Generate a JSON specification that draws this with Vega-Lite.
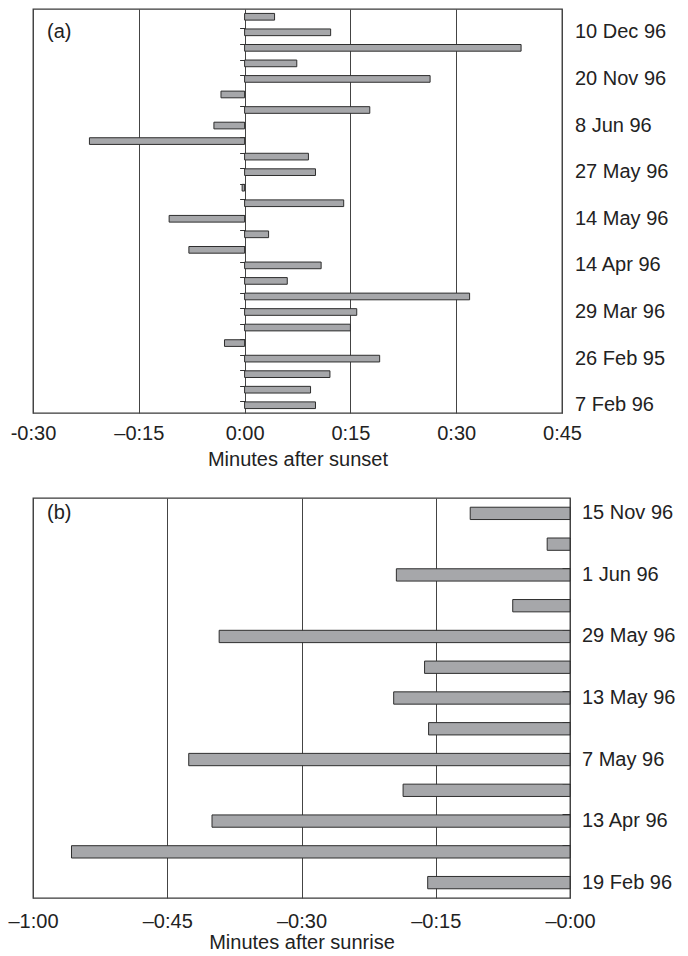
{
  "$schema": "https://vega.github.io/schema/vega-lite/v6.json",
  "background": "white",
  "padding": {"left": 7, "top": 6, "right": 0, "bottom": 0},
  "spacing": 27,
  "config": {
    "font": "Liberation Sans",
    "view": {"stroke": "#3a3a3a", "strokeWidth": 1.3},
    "axis": {
      "labelFont": "Liberation Sans",
      "titleFont": "Liberation Sans",
      "labelColor": "#222222",
      "titleColor": "#222222",
      "labelFontSize": 20,
      "titleFontSize": 20,
      "titleFontWeight": "normal",
      "labelFlush": false
    }
  },
  "vconcat": [
    {
      "width": 529,
      "height": 404,
      "data": {"values": [
        {"row": 1, "min": 4.25, "date": ""},
        {"row": 2, "min": 12.2, "date": "10 Dec 96"},
        {"row": 3, "min": 39.2, "date": ""},
        {"row": 4, "min": 7.4, "date": ""},
        {"row": 5, "min": 26.3, "date": "20 Nov 96"},
        {"row": 6, "min": -3.35, "date": ""},
        {"row": 7, "min": 17.75, "date": ""},
        {"row": 8, "min": -4.35, "date": "8 Jun 96"},
        {"row": 9, "min": -22.0, "date": ""},
        {"row": 10, "min": 9.05, "date": ""},
        {"row": 11, "min": 10.05, "date": "27 May 96"},
        {"row": 12, "min": -0.35, "date": ""},
        {"row": 13, "min": 14.05, "date": ""},
        {"row": 14, "min": -10.7, "date": "14 May 96"},
        {"row": 15, "min": 3.4, "date": ""},
        {"row": 16, "min": -7.9, "date": ""},
        {"row": 17, "min": 10.85, "date": "14 Apr 96"},
        {"row": 18, "min": 6.05, "date": ""},
        {"row": 19, "min": 31.9, "date": ""},
        {"row": 20, "min": 15.9, "date": "29 Mar 96"},
        {"row": 21, "min": 15.0, "date": ""},
        {"row": 22, "min": -2.85, "date": ""},
        {"row": 23, "min": 19.15, "date": "26 Feb 95"},
        {"row": 24, "min": 12.1, "date": ""},
        {"row": 25, "min": 9.35, "date": ""},
        {"row": 26, "min": 10.05, "date": "7 Feb 96"}
      ]},
      "layer": [
        {
          "mark": {"type": "bar", "fill": "#a6a7aa", "stroke": "#2e2e2e", "strokeWidth": 1},
          "encoding": {
            "y": {
              "field": "row", "type": "ordinal",
              "scale": {"paddingInner": 0.57, "paddingOuter": 0.285},
              "axis": {
                "orient": "left", "offset": -211.6, "bandPosition": 0,
                "values": [2,3,4,5,6,7,8,9,10,11,12,13,14,15,16,17,18,19,20,21,22,23,24,25,26],
                "labels": false, "domain": false, "ticks": true, "tickSize": 5,
                "tickColor": "#333333", "title": null, "grid": false
              }
            },
            "x": {
              "field": "min", "type": "quantitative",
              "scale": {"domain": [-30, 45], "nice": false, "zero": false},
              "axis": {
                "values": [-30, -15, 0, 15, 30, 45],
                "labelExpr": "datum.value == -30 ? '-0:30' : datum.value == -15 ? '–0:15' : datum.value == 0 ? '0:00' : '0:' + datum.value",
                "ticks": false, "domain": false, "grid": true, "gridColor": "#444444",
                "labelPadding": 10, "title": "Minutes after sunset", "titlePadding": 6
              }
            }
          }
        },
        {
          "mark": {"type": "text", "align": "left", "baseline": "middle", "dx": 13, "fontSize": 20, "color": "#222222"},
          "encoding": {
            "y": {"field": "row", "type": "ordinal"},
            "x": {"datum": 45},
            "text": {"field": "date"}
          }
        },
        {
          "data": {"values": [{"tag": "(a)"}]},
          "mark": {"type": "text", "align": "left", "baseline": "middle", "dx": 14, "fontSize": 20, "color": "#222222"},
          "encoding": {
            "y": {"datum": 2, "type": "ordinal"},
            "x": {"datum": -30},
            "text": {"field": "tag"}
          }
        }
      ]
    },
    {
      "width": 537,
      "height": 400,
      "data": {"values": [
        {"row": 1, "min": -11.15, "date": "15 Nov 96"},
        {"row": 2, "min": -2.55, "date": ""},
        {"row": 3, "min": -19.4, "date": "1 Jun 96"},
        {"row": 4, "min": -6.4, "date": ""},
        {"row": 5, "min": -39.2, "date": "29 May 96"},
        {"row": 6, "min": -16.25, "date": ""},
        {"row": 7, "min": -19.7, "date": "13 May 96"},
        {"row": 8, "min": -15.8, "date": ""},
        {"row": 9, "min": -42.6, "date": "7 May 96"},
        {"row": 10, "min": -18.65, "date": ""},
        {"row": 11, "min": -40.0, "date": "13 Apr 96"},
        {"row": 12, "min": -55.7, "date": ""},
        {"row": 13, "min": -15.9, "date": "19 Feb 96"}
      ]},
      "layer": [
        {
          "mark": {"type": "bar", "fill": "#a6a7aa", "stroke": "#2e2e2e", "strokeWidth": 1},
          "encoding": {
            "y": {
              "field": "row", "type": "ordinal",
              "scale": {"paddingInner": 0.6, "paddingOuter": 0.3},
              "axis": {
                "orient": "left", "offset": -537, "bandPosition": 0,
                "values": [2,3,4,5,6,7,8,9,10,11,12,13],
                "labels": false, "domain": false, "ticks": true, "tickSize": 8,
                "tickColor": "#333333", "title": null, "grid": false
              }
            },
            "x": {
              "field": "min", "type": "quantitative",
              "scale": {"domain": [-60, 0], "nice": false, "zero": false},
              "axis": {
                "values": [-60, -45, -30, -15, 0],
                "labelExpr": "datum.value == -60 ? '–1:00' : datum.value == 0 ? '–0:00' : '–0:' + abs(datum.value)",
                "ticks": false, "domain": false, "grid": true, "gridColor": "#444444",
                "labelPadding": 13, "title": "Minutes after sunrise", "titlePadding": 1
              }
            }
          }
        },
        {
          "mark": {"type": "text", "align": "left", "baseline": "middle", "dx": 12, "fontSize": 20, "color": "#222222"},
          "encoding": {
            "y": {"field": "row", "type": "ordinal"},
            "x": {"datum": 0},
            "text": {"field": "date"}
          }
        },
        {
          "data": {"values": [{"tag": "(b)"}]},
          "mark": {"type": "text", "align": "left", "baseline": "middle", "dx": 14, "fontSize": 20, "color": "#222222"},
          "encoding": {
            "y": {"datum": 1, "type": "ordinal"},
            "x": {"datum": -60},
            "text": {"field": "tag"}
          }
        }
      ]
    }
  ]
}
